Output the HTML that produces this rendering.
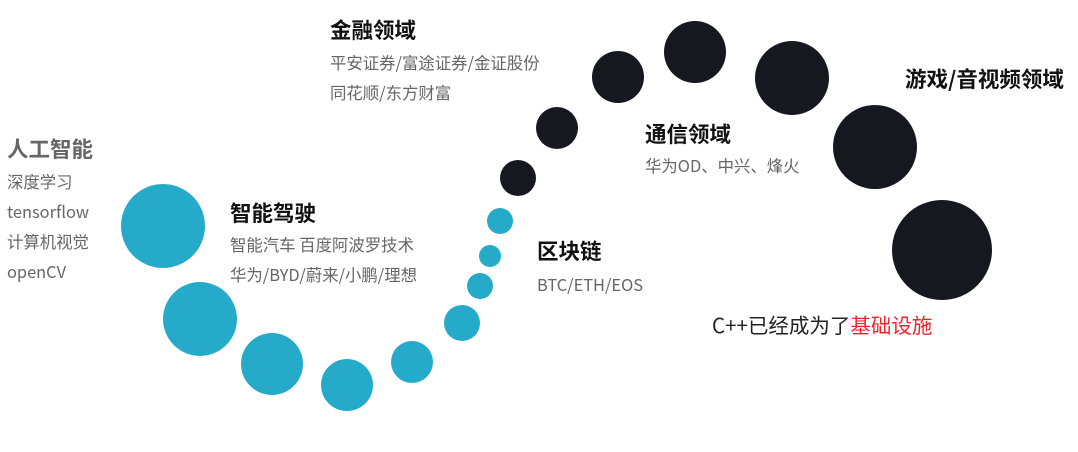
<!DOCTYPE html>
<html><head><meta charset="utf-8"><style>
body{margin:0;width:1078px;height:452px;background:#fff;position:relative;overflow:hidden;font-family:"Noto Sans CJK SC","Liberation Sans",sans-serif}
.c{position:absolute;border-radius:50%}
.b{background:#25abc9}.d{background:#16181f}
.t{position:absolute;white-space:nowrap;line-height:1}
.h{font-size:21.5px;font-weight:bold;color:#111}
.s{font-size:16.4px;color:#666}
</style></head><body>
<div class="c b" style="left:121px;top:184px;width:84px;height:84px"></div>
<div class="c b" style="left:163px;top:282px;width:74px;height:74px"></div>
<div class="c b" style="left:241px;top:333px;width:62px;height:62px"></div>
<div class="c b" style="left:321px;top:359px;width:52px;height:52px"></div>
<div class="c b" style="left:391px;top:341px;width:42px;height:42px"></div>
<div class="c b" style="left:444px;top:305px;width:36px;height:36px"></div>
<div class="c b" style="left:467px;top:273px;width:26px;height:26px"></div>
<div class="c b" style="left:479px;top:245px;width:22px;height:22px"></div>
<div class="c b" style="left:487px;top:208px;width:26px;height:26px"></div>
<div class="c d" style="left:500px;top:160px;width:36px;height:36px"></div>
<div class="c d" style="left:536px;top:107px;width:42px;height:42px"></div>
<div class="c d" style="left:592px;top:51px;width:52px;height:52px"></div>
<div class="c d" style="left:664px;top:21px;width:62px;height:62px"></div>
<div class="c d" style="left:755px;top:41px;width:74px;height:74px"></div>
<div class="c d" style="left:833px;top:105px;width:84px;height:84px"></div>
<div class="c d" style="left:892px;top:200px;width:100px;height:100px"></div>

<div class="t h" style="left:330px;top:19px">金融领域</div>
<div class="t s" style="left:330px;top:54px">平安证券/富途证券/金证股份</div>
<div class="t s" style="left:330px;top:84px">同花顺/东方财富</div>
<div class="t h" style="left:905px;top:68px">游戏/音视频领域</div>
<div class="t h" style="left:645px;top:123px">通信领域</div>
<div class="t s" style="left:645px;top:157px">华为OD、中兴、烽火</div>
<div class="t h" style="left:7px;top:138px;color:#666">人工智能</div>
<div class="t s" style="left:7px;top:173px">深度学习</div>
<div class="t s" style="left:7px;top:203px">tensorflow</div>
<div class="t s" style="left:7px;top:233px">计算机视觉</div>
<div class="t s" style="left:7px;top:263px">openCV</div>
<div class="t h" style="left:230px;top:202px">智能驾驶</div>
<div class="t s" style="left:230px;top:236px">智能汽车 百度阿波罗技术</div>
<div class="t s" style="left:230px;top:266px">华为/BYD/蔚来/小鹏/理想</div>
<div class="t h" style="left:537px;top:240px">区块链</div>
<div class="t s" style="left:537px;top:276px">BTC/ETH/EOS</div>
<div class="t" style="left:712px;top:314px;font-size:20.5px;color:#222">C++已经成为了<span style="color:#f2242b">基础设施</span></div>
</body></html>
